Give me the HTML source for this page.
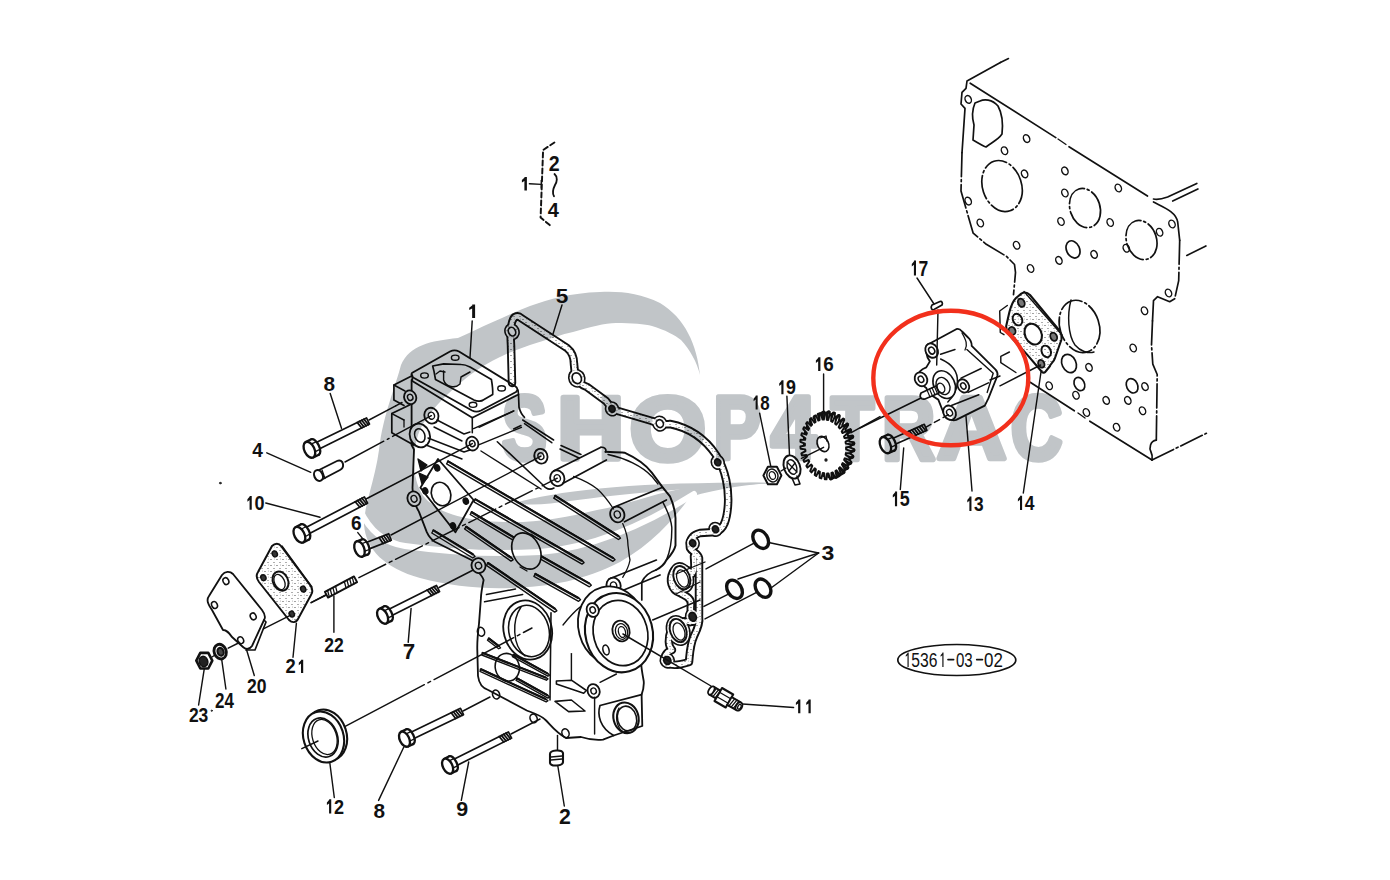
<!DOCTYPE html>
<html><head><meta charset="utf-8"><style>
html,body{margin:0;padding:0;background:#fff;width:1390px;height:880px;overflow:hidden}
svg{display:block}
text{font-family:"Liberation Sans",sans-serif;stroke:none}
</style></head><body>
<svg width="1390" height="880" viewBox="0 0 1390 880">
<defs><pattern id="dots" width="6" height="6" patternUnits="userSpaceOnUse"><rect width="6" height="6" fill="#fff"/><circle cx="1" cy="1.5" r="0.6" fill="#333"/><circle cx="4" cy="4.5" r="0.55" fill="#444"/><circle cx="4.5" cy="1" r="0.4" fill="#666"/></pattern></defs>
<rect width="1390" height="880" fill="#fff"/>
<g stroke="#111" stroke-linecap="round" stroke-linejoin="round" fill="none">
<path d="M1008.5,58.5 L1000.4,62.5" stroke-width="1.56" fill="none" />
<path d="M1000.4,62.5 L967.0,81.0 L966.0,88.3 L962.0,92.3 L961.0,104.0 L965.0,108.4 L962.0,152.7" stroke-width="1.69" fill="none" />
<path d="M962.0,152.7 L961.0,191.0 L970.2,223.0 L973.2,233.2 L986.3,244.3 L1006.5,256.4 L1014.5,264.5 L1015.5,272.5 L1013.5,294.7" stroke-width="1.69" fill="none" stroke-dasharray="24 3 2 3"/>
<line x1="970.2" y1="83.2" x2="1055.8" y2="137.6" stroke-width="1.69" />
<line x1="1069.0" y1="146.7" x2="1147.5" y2="196.0" stroke-width="1.69" />
<line x1="1058.0" y1="139.0" x2="1066.0" y2="144.5" stroke-width="1.30" />
<path d="M1153.5,199 C1158,200 1162,199 1167.6,197 L1196.8,183.4" stroke-width="1.69" fill="none" />
<line x1="1172.7" y1="201.0" x2="1197.9" y2="189.0" stroke-width="1.69" />
<path d="M1153.5,202 C1165,208 1176,212 1177.7,222 L1179.7,240.3" stroke-width="1.69" fill="none" />
<path d="M1179.7,240.3 L1178.7,280.6 L1174.7,298.7" stroke-width="1.69" fill="none" stroke-dasharray="24 3 2 3"/>
<path d="M1174.7,298.7 L1169.7,301.7 L1157.6,296.7 L1153.5,300.7 L1152.5,320.9" stroke-width="1.69" fill="none" />
<path d="M1152.5,320.9 L1151.5,345.0 L1152.8,364.2 L1157.2,374.5 L1156.3,440.2" stroke-width="1.69" fill="none" stroke-dasharray="24 3 2 3"/>
<path d="M1156.3,440.2 C1150,441 1149,448 1151,452 C1153,456 1152,459 1152,460" stroke-width="1.69" fill="none" />
<line x1="1186.8" y1="255.4" x2="1205.9" y2="246.0" stroke-width="1.69" />
<line x1="1030.2" y1="382.3" x2="1074.3" y2="410.8" stroke-width="1.69" />
<line x1="1089.8" y1="421.2" x2="1152.0" y2="460.0" stroke-width="1.69" />
<line x1="1078.0" y1="413.0" x2="1085.0" y2="418.0" stroke-width="1.30" />
<path d="M1152.0,460.0 L1206.4,433.3" stroke-width="1.69" fill="none" stroke-dasharray="24 3 2 3"/>
<ellipse cx="968.2" cy="99.4" rx="3.0" ry="4.0" stroke-width="1.43" fill="none" transform="rotate(-25 968.2 99.4)" />
<ellipse cx="1026.6" cy="138.6" rx="3.0" ry="4.0" stroke-width="1.43" fill="none" transform="rotate(-25 1026.6 138.6)" />
<ellipse cx="1004.5" cy="150.7" rx="3.0" ry="4.0" stroke-width="1.43" fill="none" transform="rotate(-25 1004.5 150.7)" />
<ellipse cx="1024.6" cy="173.9" rx="3.0" ry="4.0" stroke-width="1.43" fill="none" transform="rotate(-25 1024.6 173.9)" />
<ellipse cx="1064.9" cy="170.9" rx="3.0" ry="4.0" stroke-width="1.43" fill="none" transform="rotate(-25 1064.9 170.9)" />
<ellipse cx="1118.3" cy="188.0" rx="3.0" ry="4.0" stroke-width="1.43" fill="none" transform="rotate(-25 1118.3 188.0)" />
<ellipse cx="968.2" cy="201.1" rx="3.0" ry="4.0" stroke-width="1.43" fill="none" transform="rotate(-25 968.2 201.1)" />
<ellipse cx="1064.9" cy="193.0" rx="3.0" ry="4.0" stroke-width="1.43" fill="none" transform="rotate(-25 1064.9 193.0)" />
<ellipse cx="980.3" cy="223.0" rx="3.0" ry="4.0" stroke-width="1.43" fill="none" transform="rotate(-25 980.3 223.0)" />
<ellipse cx="1061.0" cy="221.5" rx="3.0" ry="4.0" stroke-width="1.43" fill="none" transform="rotate(-25 1061.0 221.5)" />
<ellipse cx="1110.2" cy="222.5" rx="3.0" ry="4.0" stroke-width="1.43" fill="none" transform="rotate(-25 1110.2 222.5)" />
<ellipse cx="1172.0" cy="224.0" rx="3.0" ry="4.0" stroke-width="1.43" fill="none" transform="rotate(-25 1172.0 224.0)" />
<ellipse cx="1016.6" cy="245.3" rx="3.0" ry="4.0" stroke-width="1.43" fill="none" transform="rotate(-25 1016.6 245.3)" />
<ellipse cx="1030.6" cy="268.5" rx="3.0" ry="4.0" stroke-width="1.43" fill="none" transform="rotate(-25 1030.6 268.5)" />
<ellipse cx="1058.9" cy="260.4" rx="3.0" ry="4.0" stroke-width="1.43" fill="none" transform="rotate(-25 1058.9 260.4)" />
<ellipse cx="1094.1" cy="254.4" rx="3.0" ry="4.0" stroke-width="1.43" fill="none" transform="rotate(-25 1094.1 254.4)" />
<ellipse cx="1126.3" cy="248.3" rx="3.0" ry="4.0" stroke-width="1.43" fill="none" transform="rotate(-25 1126.3 248.3)" />
<ellipse cx="1159.6" cy="232.2" rx="3.0" ry="4.0" stroke-width="1.43" fill="none" transform="rotate(-25 1159.6 232.2)" />
<ellipse cx="1144.5" cy="310.8" rx="3.0" ry="4.0" stroke-width="1.43" fill="none" transform="rotate(-25 1144.5 310.8)" />
<ellipse cx="1133.2" cy="348.0" rx="3.0" ry="4.0" stroke-width="1.43" fill="none" transform="rotate(-25 1133.2 348.0)" />
<ellipse cx="1089.0" cy="367.4" rx="3.0" ry="4.0" stroke-width="1.43" fill="none" transform="rotate(-25 1089.0 367.4)" />
<ellipse cx="1049.2" cy="385.8" rx="3.0" ry="4.0" stroke-width="1.43" fill="none" transform="rotate(-25 1049.2 385.8)" />
<ellipse cx="1168.5" cy="293.0" rx="3.0" ry="4.0" stroke-width="1.43" fill="none" transform="rotate(-25 1168.5 293.0)" />
<ellipse cx="1076.0" cy="395.3" rx="3.0" ry="4.0" stroke-width="1.43" fill="none" transform="rotate(-25 1076.0 395.3)" />
<ellipse cx="1145.0" cy="386.6" rx="3.0" ry="4.0" stroke-width="1.43" fill="none" transform="rotate(-25 1145.0 386.6)" />
<ellipse cx="1106.2" cy="400.4" rx="3.0" ry="4.0" stroke-width="1.43" fill="none" transform="rotate(-25 1106.2 400.4)" />
<ellipse cx="1127.8" cy="400.4" rx="3.0" ry="4.0" stroke-width="1.43" fill="none" transform="rotate(-25 1127.8 400.4)" />
<ellipse cx="1142.5" cy="410.8" rx="3.0" ry="4.0" stroke-width="1.43" fill="none" transform="rotate(-25 1142.5 410.8)" />
<ellipse cx="1086.4" cy="412.5" rx="3.0" ry="4.0" stroke-width="1.43" fill="none" transform="rotate(-25 1086.4 412.5)" />
<ellipse cx="1116.6" cy="427.2" rx="3.0" ry="4.0" stroke-width="1.43" fill="none" transform="rotate(-25 1116.6 427.2)" />
<ellipse cx="1073.0" cy="249.4" rx="6.5" ry="9.0" stroke-width="1.69" fill="none" transform="rotate(-25 1073.0 249.4)" />
<ellipse cx="1069.0" cy="363.5" rx="7.0" ry="9.5" stroke-width="1.69" fill="none" transform="rotate(-25 1069.0 363.5)" />
<ellipse cx="1079.4" cy="384.0" rx="5.0" ry="7.0" stroke-width="1.69" fill="none" transform="rotate(-25 1079.4 384.0)" />
<ellipse cx="1132.1" cy="385.8" rx="5.5" ry="7.5" stroke-width="1.69" fill="none" transform="rotate(-25 1132.1 385.8)" />
<ellipse cx="1002.0" cy="186.0" rx="19.5" ry="26.0" stroke-width="1.69" fill="none" transform="rotate(-18 1002.0 186.0)" stroke-dasharray="24 3 2 3"/>
<ellipse cx="1085.0" cy="208.0" rx="15.0" ry="20.0" stroke-width="1.69" fill="none" transform="rotate(-18 1085.0 208.0)" stroke-dasharray="24 3 2 3"/>
<ellipse cx="1141.5" cy="240.0" rx="15.0" ry="20.0" stroke-width="1.69" fill="none" transform="rotate(-18 1141.5 240.0)" stroke-dasharray="24 3 2 3"/>
<path d="M975,103 C972,110 972,118 974,125 L973,140 C978,143 983,146 986,147 C992,142 998,140 1002,134 C1003,125 1003,115 998,106 C992,99 984,99 980,101 Z" stroke-width="1.69" fill="none" />
<ellipse cx="1079.5" cy="326.4" rx="19.6" ry="26.7" stroke-width="1.69" fill="none" transform="rotate(-18 1079.5 326.4)" stroke-dasharray="24 3 2 3"/>
<path d="M1071,300 C1067,315 1068,335 1075,345 C1080,351 1088,354 1094,352" stroke-width="1.43" fill="none" />
<path d="M1021.3,293.6 C1024,292 1027,292 1030,295 L1059,330 C1062,334 1062,337 1061.3,340 L1055,358 C1054,362 1050,364 1050,366 L1046,371 C1045,373 1043,373 1042,372 L1026.7,354.1 L1012.7,339 C1008,334 1006,330 1006.2,326 L1009.4,312 C1011,306 1014,300 1016,298 Z" stroke-width="2.08" fill="url(#dots)" />
<path d="M1024,291.5 L1062,335" stroke-width="1.30" fill="none" />
<ellipse cx="1021.3" cy="302.8" rx="3.2" ry="4.3" stroke-width="1.82" fill="#777" transform="rotate(-25 1021.3 302.8)" />
<ellipse cx="1017.5" cy="319.6" rx="4.5" ry="6.0" stroke-width="1.95" fill="none" transform="rotate(-25 1017.5 319.6)" />
<ellipse cx="1012.1" cy="330.9" rx="3.3" ry="4.0" stroke-width="1.82" fill="#777" transform="rotate(-25 1012.1 330.9)" />
<ellipse cx="1033.2" cy="334.1" rx="8.2" ry="10.8" stroke-width="2.08" fill="#fff" transform="rotate(-25 1033.2 334.1)" />
<ellipse cx="1053.7" cy="336.8" rx="3.2" ry="4.3" stroke-width="1.82" fill="#777" transform="rotate(-25 1053.7 336.8)" />
<ellipse cx="1046.2" cy="351.4" rx="4.5" ry="6.0" stroke-width="1.95" fill="none" transform="rotate(-25 1046.2 351.4)" />
<ellipse cx="1041.3" cy="363.8" rx="3.0" ry="4.0" stroke-width="1.82" fill="#777" transform="rotate(-25 1041.3 363.8)" />
<path d="M1007.3,305.5 L999.7,311.0 L1000.3,332.5 L1004.0,334.7" stroke-width="1.43" fill="none" />
<path d="M1009.4,352.0 L1000.8,356.3 L1000.8,362.7 L1015.9,372.5" stroke-width="1.43" fill="none" />
<line x1="1000.0" y1="385.8" x2="1040.6" y2="365.0" stroke-width="1.43" />
<path d="M927.5,344.7 L956.2,329.2 C958,328.5 960,329 962.1,331.5 L968.1,337.5 C970,339 972,343 971.7,345.9 L995.6,369.7 C997.5,372 998,374 997.3,376 L988.4,398.4 L984.8,405.6 L956.2,419.9 C952,421 946,419 944,414 L938.3,399.6 C932,396 927,392 926.3,388 C922,385 918,382 918,377 C918,372 922,369 926.3,367.4 L929.9,361.4 C926,357 925,348 927.5,344.7 Z" stroke-width="1.82" fill="#fff" />
<ellipse cx="931.7" cy="350.6" rx="6.0" ry="7.5" stroke-width="1.82" fill="#fff" transform="rotate(-30 931.7 350.6)" />
<ellipse cx="931.7" cy="350.6" rx="2.8" ry="3.6" stroke-width="1.56" fill="none" transform="rotate(-30 931.7 350.6)" />
<path d="M966.9,349.5 L993.2,373.3 L987.2,392.4" stroke-width="1.43" fill="none" />
<path d="M962,333 C966,340 968,345 965,350" stroke-width="1.30" fill="none" />
<line x1="940.6" y1="354.2" x2="955.0" y2="349.5" stroke-width="1.43" />
<path d="M940.6,359 C952,364 958,372 957.4,382 C957,392 952,398 947.8,402" stroke-width="1.43" fill="none" />
<ellipse cx="944.2" cy="384.6" rx="10.5" ry="14.5" stroke-width="1.56" fill="#fff" transform="rotate(-25 944.2 384.6)" />
<ellipse cx="943.0" cy="386.0" rx="6.5" ry="9.0" stroke-width="1.43" fill="#fff" transform="rotate(-25 943.0 386.0)" />
<ellipse cx="941.0" cy="388.0" rx="3.5" ry="5.0" stroke-width="1.43" fill="none" transform="rotate(-25 941.0 388.0)" />
<line x1="961.0" y1="378.1" x2="981.2" y2="368.5" stroke-width="1.56" />
<line x1="968.1" y1="392.4" x2="988.4" y2="382.9" stroke-width="1.56" />
<ellipse cx="963.3" cy="385.9" rx="5.5" ry="7.0" stroke-width="1.82" fill="#fff" transform="rotate(-30 963.3 385.9)" />
<ellipse cx="963.3" cy="385.9" rx="2.5" ry="3.3" stroke-width="1.43" fill="none" transform="rotate(-30 963.3 385.9)" />
<line x1="951.4" y1="405.6" x2="978.8" y2="394.8" stroke-width="1.56" />
<ellipse cx="949.6" cy="412.7" rx="6.0" ry="7.5" stroke-width="1.82" fill="#fff" transform="rotate(-30 949.6 412.7)" />
<ellipse cx="949.6" cy="412.7" rx="2.8" ry="3.4" stroke-width="1.43" fill="none" transform="rotate(-30 949.6 412.7)" />
<ellipse cx="921.0" cy="379.3" rx="6.0" ry="7.2" stroke-width="1.82" fill="#fff" transform="rotate(-30 921.0 379.3)" />
<ellipse cx="921.0" cy="379.3" rx="2.6" ry="3.3" stroke-width="1.43" fill="none" transform="rotate(-30 921.0 379.3)" />
<path d="M921,393 L936,386 L939,393 L925,399 C921,400 919,397 921,393 Z" stroke-width="1.69" fill="#fff" />
<line x1="927.0" y1="390.0" x2="930.0" y2="397.0" stroke-width="1.17" />
<line x1="929.5" y1="388.9" x2="932.5" y2="395.9" stroke-width="1.17" />
<line x1="932.0" y1="387.8" x2="935.0" y2="394.8" stroke-width="1.17" />
<line x1="934.5" y1="386.7" x2="937.5" y2="393.7" stroke-width="1.17" />
<line x1="860.0" y1="428.0" x2="921.0" y2="398.0" stroke-width="1.43" />
<line x1="990.0" y1="380.0" x2="1000.0" y2="376.0" stroke-width="1.43" />
<path d="M893.0,445.3 L926.9,430.3 L924.3,424.3 L890.4,439.4 Z" stroke-width="1.69" fill="#fff" />
<line x1="925.7" y1="430.8" x2="921.6" y2="425.5" stroke-width="1.76" />
<line x1="923.3" y1="431.9" x2="919.2" y2="426.6" stroke-width="1.76" />
<line x1="920.8" y1="433.0" x2="916.7" y2="427.7" stroke-width="1.76" />
<line x1="918.4" y1="434.1" x2="914.3" y2="428.8" stroke-width="1.76" />
<line x1="916.0" y1="435.1" x2="911.9" y2="429.9" stroke-width="1.76" />
<line x1="913.5" y1="436.2" x2="909.4" y2="430.9" stroke-width="1.76" />
<ellipse cx="891.1" cy="442.6" rx="4.0" ry="8.5" stroke-width="2.34" fill="#fff" transform="rotate(-23.948348851589543 891.1 442.6)" />
<path d="M888.8,453.0 L894.6,450.4 L887.7,434.8 L881.9,437.4 Z" stroke-width="0.00" fill="#fff" stroke="none"/>
<line x1="888.8" y1="453.0" x2="894.6" y2="450.4" stroke-width="2.34" />
<line x1="881.9" y1="437.4" x2="887.7" y2="434.8" stroke-width="2.34" />
<ellipse cx="885.4" cy="445.2" rx="5.0" ry="8.5" stroke-width="2.34" fill="#fff" transform="rotate(-23.948348851589543 885.4 445.2)" />
<line x1="891.2" y1="447.2" x2="895.7" y2="445.2" stroke-width="1.30" />
<line x1="887.7" y1="439.4" x2="892.3" y2="437.4" stroke-width="1.30" />
<path d="M925.6,427.3 L948.8,414.4" stroke-width="1.43" fill="none" stroke-dasharray="6 4"/>
<path d="M932,305 L940,301.5 C942,301 943,303 942,305 L934,309.5 C932,310.5 930,308 932,305 Z" stroke-width="1.69" fill="#fff" />
<line x1="938.0" y1="310.0" x2="936.7" y2="365.0" stroke-width="1.43" />
<path d="M849.3,441.6 L853.9,442.3 L854.1,444.5 L849.6,445.5 L849.6,447.3 L854.1,449.1 L854.0,451.3 L849.4,451.1 L849.1,452.8 L853.2,455.8 L852.7,457.8 L848.2,456.3 L847.6,457.9 L851.3,462.0 L850.5,463.8 L846.2,461.1 L845.4,462.5 L848.4,467.4 L847.3,468.9 L843.4,465.2 L842.4,466.3 L844.6,471.8 L843.3,472.9 L840.0,468.3 L838.9,469.1 L840.2,475.0 L838.6,475.7 L836.2,470.4 L834.9,470.9 L835.2,476.9 L833.6,477.2 L832.0,471.4 L830.6,471.4 L830.0,477.3 L828.3,477.2 L827.7,471.2 L826.3,470.9 L824.8,476.4 L823.1,475.8 L823.4,469.8 L822.1,469.1 L819.7,474.0 L818.2,473.0 L819.4,467.3 L818.2,466.3 L815.0,470.4 L813.7,469.0 L815.8,463.9 L814.8,462.6 L811.0,465.6 L809.9,463.9 L812.8,459.5 L812.0,458.0 L807.7,459.9 L806.9,457.9 L810.5,454.6 L809.9,452.9 L805.4,453.5 L804.9,451.4 L809.0,449.1 L808.7,447.4 L804.1,446.7 L803.9,444.5 L808.4,443.5 L808.4,441.7 L803.9,439.9 L804.0,437.7 L808.6,437.9 L808.9,436.2 L804.8,433.2 L805.3,431.2 L809.8,432.7 L810.4,431.1 L806.7,427.0 L807.5,425.2 L811.8,427.9 L812.6,426.5 L809.6,421.6 L810.7,420.1 L814.6,423.8 L815.6,422.7 L813.4,417.2 L814.7,416.1 L818.0,420.7 L819.1,419.9 L817.8,414.0 L819.4,413.3 L821.8,418.6 L823.1,418.1 L822.8,412.1 L824.4,411.8 L826.0,417.6 L827.4,417.6 L828.0,411.7 L829.7,411.8 L830.3,417.8 L831.7,418.1 L833.2,412.6 L834.9,413.2 L834.6,419.2 L835.9,419.9 L838.3,415.0 L839.8,416.0 L838.6,421.7 L839.8,422.7 L843.0,418.6 L844.3,420.0 L842.2,425.1 L843.2,426.4 L847.0,423.4 L848.1,425.1 L845.2,429.5 L846.0,431.0 L850.3,429.1 L851.1,431.1 L847.5,434.4 L848.1,436.1 L852.6,435.5 L853.1,437.6 L849.0,439.9 Z" stroke-width="1.95" fill="#fff" />
<line x1="850.5" y1="445.4" x2="854.0" y2="443.4" stroke-width="2.86" />
<line x1="850.6" y1="452.2" x2="854.1" y2="450.2" stroke-width="2.86" />
<line x1="849.5" y1="458.8" x2="853.0" y2="456.8" stroke-width="2.86" />
<line x1="847.4" y1="464.9" x2="850.9" y2="462.9" stroke-width="2.86" />
<line x1="844.3" y1="470.1" x2="847.8" y2="468.1" stroke-width="2.86" />
<line x1="840.5" y1="474.4" x2="844.0" y2="472.4" stroke-width="2.86" />
<line x1="835.9" y1="477.4" x2="839.4" y2="475.4" stroke-width="2.86" />
<line x1="830.9" y1="479.0" x2="834.4" y2="477.0" stroke-width="2.86" />
<line x1="820.1" y1="414.0" x2="823.6" y2="412.0" stroke-width="2.86" />
<line x1="825.3" y1="413.7" x2="828.8" y2="411.7" stroke-width="2.86" />
<line x1="830.6" y1="414.9" x2="834.1" y2="412.9" stroke-width="2.86" />
<line x1="835.6" y1="417.5" x2="839.1" y2="415.5" stroke-width="2.86" />
<line x1="840.1" y1="421.3" x2="843.6" y2="419.3" stroke-width="2.86" />
<line x1="844.1" y1="426.3" x2="847.6" y2="424.3" stroke-width="2.86" />
<line x1="847.2" y1="432.1" x2="850.7" y2="430.1" stroke-width="2.86" />
<line x1="849.4" y1="438.6" x2="852.9" y2="436.6" stroke-width="2.86" />
<path d="M845.8,443.6 L850.4,444.3 L850.6,446.5 L846.1,447.5 L846.1,449.3 L850.6,451.1 L850.5,453.3 L845.9,453.1 L845.6,454.8 L849.7,457.8 L849.2,459.8 L844.7,458.3 L844.1,459.9 L847.8,464.0 L847.0,465.8 L842.7,463.1 L841.9,464.5 L844.9,469.4 L843.8,470.9 L839.9,467.2 L838.9,468.3 L841.1,473.8 L839.8,474.9 L836.5,470.3 L835.4,471.1 L836.7,477.0 L835.1,477.7 L832.7,472.4 L831.4,472.9 L831.7,478.9 L830.1,479.2 L828.5,473.4 L827.1,473.4 L826.5,479.3 L824.8,479.2 L824.2,473.2 L822.8,472.9 L821.3,478.4 L819.6,477.8 L819.9,471.8 L818.6,471.1 L816.2,476.0 L814.7,475.0 L815.9,469.3 L814.7,468.3 L811.5,472.4 L810.2,471.0 L812.3,465.9 L811.3,464.6 L807.5,467.6 L806.4,465.9 L809.3,461.5 L808.5,460.0 L804.2,461.9 L803.4,459.9 L807.0,456.6 L806.4,454.9 L801.9,455.5 L801.4,453.4 L805.5,451.1 L805.2,449.4 L800.6,448.7 L800.4,446.5 L804.9,445.5 L804.9,443.7 L800.4,441.9 L800.5,439.7 L805.1,439.9 L805.4,438.2 L801.3,435.2 L801.8,433.2 L806.3,434.7 L806.9,433.1 L803.2,429.0 L804.0,427.2 L808.3,429.9 L809.1,428.5 L806.1,423.6 L807.2,422.1 L811.1,425.8 L812.1,424.7 L809.9,419.2 L811.2,418.1 L814.5,422.7 L815.6,421.9 L814.3,416.0 L815.9,415.3 L818.3,420.6 L819.6,420.1 L819.3,414.1 L820.9,413.8 L822.5,419.6 L823.9,419.6 L824.5,413.7 L826.2,413.8 L826.8,419.8 L828.2,420.1 L829.7,414.6 L831.4,415.2 L831.1,421.2 L832.4,421.9 L834.8,417.0 L836.3,418.0 L835.1,423.7 L836.3,424.7 L839.5,420.6 L840.8,422.0 L838.7,427.1 L839.7,428.4 L843.5,425.4 L844.6,427.1 L841.7,431.5 L842.5,433.0 L846.8,431.1 L847.6,433.1 L844.0,436.4 L844.6,438.1 L849.1,437.5 L849.6,439.6 L845.5,441.9 Z" stroke-width="1.95" fill="#fff" />
<ellipse cx="823.0" cy="444.0" rx="5.5" ry="8.0" stroke-width="1.56" fill="#fff" transform="rotate(-25 823.0 444.0)" />
<path d="M820,438 L826,436 L827,441" stroke-width="1.30" fill="none" />
<ellipse cx="826.0" cy="460.0" rx="1.0" ry="1.0" stroke-width="1.30" fill="none" />
<line x1="801.4" y1="458.4" x2="823.6" y2="447.3" stroke-width="1.43" />
<line x1="850.8" y1="432.8" x2="880.0" y2="416.6" stroke-width="1.43" />
<ellipse cx="792.0" cy="467.0" rx="8.0" ry="12.0" stroke-width="1.95" fill="#fff" transform="rotate(-20 792.0 467.0)" />
<ellipse cx="792.0" cy="467.0" rx="4.5" ry="7.5" stroke-width="1.43" fill="none" transform="rotate(-20 792.0 467.0)" />
<line x1="787.0" y1="462.0" x2="797.0" y2="472.0" stroke-width="1.30" />
<line x1="789.0" y1="471.0" x2="795.0" y2="463.0" stroke-width="1.30" />
<path d="M792,478 L795,485 L800,484 L797,476" stroke-width="1.56" fill="none" />
<path d="M781.4,475.5 L776.9,484.2 L767.9,484.2 L763.4,475.5 L767.9,466.8 L776.9,466.8 Z" stroke-width="1.95" fill="#fff" />
<ellipse cx="772.4" cy="475.5" rx="5.5" ry="6.5" stroke-width="1.43" fill="none" transform="rotate(-20 772.4 475.5)" />
<ellipse cx="772.4" cy="475.5" rx="3.0" ry="4.0" stroke-width="1.30" fill="none" transform="rotate(-20 772.4 475.5)" />
<line x1="781.0" y1="471.0" x2="786.0" y2="468.0" stroke-width="1.43" />
<path d="M913.90,260.50 L916.00,260.50 L916.00,275.39 L913.90,275.39 L913.90,264.85 L911.80,266.59 L911.80,263.98 L914.08,261.15 Z" fill="#111" stroke="none"/>
<text fill="#111" font-weight="bold" font-size="21.74" transform="translate(918.57 275.50) scale(0.806 1)" x="0" y="0" >7</text>
<line x1="917.0" y1="278.0" x2="934.0" y2="304.0" stroke-width="1.43" />
<path d="M894.95,491.60 L897.10,491.60 L897.10,506.28 L894.95,506.28 L894.95,495.89 L892.80,497.60 L892.80,495.03 L895.13,492.24 Z" fill="#111" stroke="none"/>
<text fill="#111" font-weight="bold" font-size="21.43" transform="translate(899.71 506.39) scale(0.835 1)" x="0" y="0" >5</text>
<line x1="900.3" y1="489.5" x2="903.7" y2="448.0" stroke-width="1.43" />
<path d="M969.38,496.61 L971.46,496.61 L971.46,511.08 L969.38,511.08 L969.38,500.84 L967.30,502.53 L967.30,499.99 L969.55,497.25 Z" fill="#111" stroke="none"/>
<text fill="#111" font-weight="bold" font-size="21.13" transform="translate(973.99 511.19) scale(0.820 1)" x="0" y="0" >3</text>
<line x1="972.0" y1="491.0" x2="966.0" y2="416.4" stroke-width="1.43" />
<path d="M1020.00,495.70 L1022.10,495.70 L1022.10,509.90 L1020.00,509.90 L1020.00,499.84 L1017.90,501.50 L1017.90,499.02 L1020.18,496.32 Z" fill="#111" stroke="none"/>
<text fill="#111" font-weight="bold" font-size="20.72" transform="translate(1024.67 510.00) scale(0.845 1)" x="0" y="0" >4</text>
<line x1="1023.3" y1="493.0" x2="1041.0" y2="372.0" stroke-width="1.43" />
<path d="M818.16,357.20 L820.43,357.20 L820.43,371.10 L818.16,371.10 L818.16,361.26 L815.90,362.88 L815.90,360.45 L818.35,357.81 Z" fill="#111" stroke="none"/>
<text fill="#111" font-weight="bold" font-size="20.28" transform="translate(823.19 371.20) scale(0.930 1)" x="0" y="0" >6</text>
<line x1="823.6" y1="374.0" x2="823.6" y2="413.2" stroke-width="1.43" />
<path d="M781.35,380.20 L783.49,380.20 L783.49,394.19 L781.35,394.19 L781.35,384.29 L779.20,385.92 L779.20,383.47 L781.52,380.82 Z" fill="#111" stroke="none"/>
<text fill="#111" font-weight="bold" font-size="20.42" transform="translate(786.10 394.30) scale(0.875 1)" x="0" y="0" >9</text>
<line x1="786.9" y1="396.2" x2="789.5" y2="455.0" stroke-width="1.43" />
<path d="M755.63,395.50 L757.66,395.50 L757.66,409.49 L755.63,409.49 L755.63,399.59 L753.60,401.22 L753.60,398.77 L755.80,396.12 Z" fill="#111" stroke="none"/>
<text fill="#111" font-weight="bold" font-size="20.42" transform="translate(760.13 409.60) scale(0.828 1)" x="0" y="0" >8</text>
<line x1="759.6" y1="413.2" x2="770.7" y2="466.0" stroke-width="1.43" />
<path d="M472.15,304.60 L475.10,304.60 L475.10,317.90 L472.15,317.90 L472.15,308.48 L469.20,310.04 L469.20,307.71 L472.40,305.18 Z" fill="#111" stroke="none"/>
<line x1="472.2" y1="320.9" x2="470.0" y2="357.8" stroke-width="1.43" />
<text fill="#111" font-weight="bold" font-size="21.14" transform="translate(555.72 302.99) scale(1.069 1)" x="0" y="0" >5</text>
<line x1="562.0" y1="305.0" x2="553.0" y2="334.0" stroke-width="1.43" />
<text fill="#111" font-weight="bold" font-size="20.14" transform="translate(323.38 391.30) scale(1.033 1)" x="0" y="0" >8</text>
<line x1="330.2" y1="393.5" x2="341.5" y2="428.3" stroke-width="1.43" />
<text fill="#111" font-weight="bold" font-size="20.87" transform="translate(252.21 457.00) scale(0.914 1)" x="0" y="0" >4</text>
<line x1="266.8" y1="452.8" x2="310.8" y2="472.3" stroke-width="1.43" />
<path d="M249.57,496.00 L251.74,496.00 L251.74,509.80 L249.57,509.80 L249.57,500.03 L247.40,501.64 L247.40,499.22 L249.75,496.61 Z" fill="#111" stroke="none"/>
<text fill="#111" font-weight="bold" font-size="20.14" transform="translate(254.38 509.90) scale(0.898 1)" x="0" y="0" >0</text>
<line x1="265.8" y1="503.0" x2="320.0" y2="517.3" stroke-width="1.43" />
<text fill="#111" font-weight="bold" font-size="20.28" transform="translate(351.04 530.40) scale(0.935 1)" x="0" y="0" >6</text>
<line x1="357.8" y1="532.6" x2="367.0" y2="543.9" stroke-width="1.43" />
<text fill="#111" font-weight="bold" font-size="21.30" transform="translate(402.69 658.60) scale(1.050 1)" x="0" y="0" >7</text>
<line x1="411.1" y1="608.4" x2="408.2" y2="642.4" stroke-width="1.43" />
<text fill="#111" font-weight="bold" font-size="19.43" transform="translate(324.19 651.60) scale(0.904 1)" x="0" y="0" >2</text>
<text fill="#111" font-weight="bold" font-size="19.43" transform="translate(333.95 651.60) scale(0.904 1)" x="0" y="0" >2</text>
<line x1="333.9" y1="595.9" x2="333.9" y2="632.3" stroke-width="1.43" />
<text fill="#111" font-weight="bold" font-size="19.57" transform="translate(285.46 673.20) scale(0.938 1)" x="0" y="0" >2</text>
<path d="M301.00,659.70 L303.20,659.70 L303.20,673.10 L301.00,673.10 L301.00,663.61 L298.79,665.18 L298.79,662.83 L301.18,660.28 Z" fill="#111" stroke="none"/>
<line x1="296.4" y1="623.2" x2="293.0" y2="657.3" stroke-width="1.43" />
<text fill="#111" font-weight="bold" font-size="20.70" transform="translate(246.89 693.39) scale(0.848 1)" x="0" y="0" >2</text>
<text fill="#111" font-weight="bold" font-size="20.70" transform="translate(256.65 693.39) scale(0.848 1)" x="0" y="0" >0</text>
<line x1="246.4" y1="649.3" x2="254.3" y2="675.5" stroke-width="1.43" />
<text fill="#111" font-weight="bold" font-size="21.14" transform="translate(215.11 708.40) scale(0.804 1)" x="0" y="0" >2</text>
<text fill="#111" font-weight="bold" font-size="21.14" transform="translate(224.56 708.40) scale(0.804 1)" x="0" y="0" >4</text>
<line x1="221.4" y1="657.3" x2="225.9" y2="689.0" stroke-width="1.43" />
<text fill="#111" font-weight="bold" font-size="20.70" transform="translate(188.89 721.79) scale(0.844 1)" x="0" y="0" >2</text>
<text fill="#111" font-weight="bold" font-size="20.70" transform="translate(198.61 721.79) scale(0.844 1)" x="0" y="0" >3</text>
<line x1="204.3" y1="668.6" x2="198.6" y2="705.0" stroke-width="1.43" />
<path d="M329.07,799.21 L331.24,799.21 L331.24,813.60 L329.07,813.60 L329.07,803.41 L326.90,805.09 L326.90,802.57 L329.25,799.84 Z" fill="#111" stroke="none"/>
<text fill="#111" font-weight="bold" font-size="21.00" transform="translate(333.88 813.70) scale(0.861 1)" x="0" y="0" >2</text>
<line x1="329.9" y1="763.5" x2="334.3" y2="797.5" stroke-width="1.43" />
<text fill="#111" font-weight="bold" font-size="20.85" transform="translate(373.58 817.99) scale(0.998 1)" x="0" y="0" >8</text>
<line x1="378.6" y1="800.4" x2="403.7" y2="747.3" stroke-width="1.43" />
<text fill="#111" font-weight="bold" font-size="20.85" transform="translate(456.15 816.49) scale(1.029 1)" x="0" y="0" >9</text>
<line x1="461.3" y1="800.4" x2="468.7" y2="762.0" stroke-width="1.43" />
<text fill="#111" font-weight="bold" font-size="22.57" transform="translate(559.06 824.00) scale(0.941 1)" x="0" y="0" >2</text>
<line x1="557.5" y1="735.5" x2="557.5" y2="751.4" stroke-width="1.43" />
<line x1="557.5" y1="764.0" x2="564.3" y2="806.0" stroke-width="1.43" />
<text fill="#111" font-weight="bold" font-size="20.85" transform="translate(821.42 559.59) scale(1.105 1)" x="0" y="0" >3</text>
<line x1="818.6" y1="553.0" x2="769.8" y2="542.7" stroke-width="1.43" />
<line x1="818.6" y1="553.0" x2="738.0" y2="579.0" stroke-width="1.43" />
<line x1="818.6" y1="553.0" x2="771.0" y2="588.0" stroke-width="1.43" />
<path d="M798.13,699.50 L800.36,699.50 L800.36,713.20 L798.13,713.20 L798.13,703.50 L795.90,705.10 L795.90,702.70 L798.32,700.10 Z" fill="#111" stroke="none"/>
<path d="M808.47,699.50 L810.70,699.50 L810.70,713.20 L808.47,713.20 L808.47,703.50 L806.24,705.10 L806.24,702.70 L808.66,700.10 Z" fill="#111" stroke="none"/>
<line x1="742.5" y1="704.0" x2="793.6" y2="707.5" stroke-width="1.43" />
<path d="M524.40,176.90 L526.90,176.90 L526.90,190.60 L524.40,190.60 L524.40,180.90 L521.90,182.50 L521.90,180.10 L524.61,177.50 Z" fill="#111" stroke="none"/>
<line x1="529.4" y1="183.8" x2="541.3" y2="184.4" stroke-width="1.43" />
<line x1="541.3" y1="180.5" x2="541.3" y2="188.0" stroke-width="1.43" />
<text fill="#111" font-weight="bold" font-size="22.43" transform="translate(548.71 171.30) scale(0.873 1)" x="0" y="0" >2</text>
<text fill="#111" font-weight="bold" font-size="20.87" transform="translate(547.80 216.90) scale(0.958 1)" x="0" y="0" >4</text>
<path d="M554.4,142.5 L543.1,150 L540.6,217.5 L551.9,226.9" stroke-width="1.95" fill="none" stroke-dasharray="5 3"/>
<path d="M554.5,174 C558,177 557,182 555,185 C553,189 552,193 554,196.3" stroke-width="1.82" fill="none" />
<ellipse cx="956.8" cy="660.0" rx="59.0" ry="15.5" stroke-width="1.69" fill="none" />
<path d="M907.49,652.61 L908.67,652.61 L908.67,667.08 L907.49,667.08 L907.49,655.15 L905.77,656.63 L905.77,655.36 L907.65,653.03 Z" fill="#111" stroke="none"/>
<text fill="#111" font-weight="normal" font-size="21.13" transform="translate(911.35 667.19) scale(0.741 1)" x="0" y="0" >5</text>
<text fill="#111" font-weight="normal" font-size="21.13" transform="translate(920.06 667.19) scale(0.741 1)" x="0" y="0" >3</text>
<text fill="#111" font-weight="normal" font-size="21.13" transform="translate(928.77 667.19) scale(0.741 1)" x="0" y="0" >6</text>
<path d="M942.33,652.61 L943.51,652.61 L943.51,667.08 L942.33,667.08 L942.33,655.15 L940.61,656.63 L940.61,655.36 L942.49,653.03 Z" fill="#111" stroke="none"/>
<line x1="948.0" y1="659.6" x2="953.6" y2="659.6" stroke-width="1.69" />
<text fill="#111" font-weight="normal" font-size="21.13" transform="translate(955.90 667.19) scale(0.715 1)" x="0" y="0" >0</text>
<text fill="#111" font-weight="normal" font-size="21.13" transform="translate(964.30 667.19) scale(0.715 1)" x="0" y="0" >3</text>
<line x1="976.7" y1="659.6" x2="982.4" y2="659.6" stroke-width="1.69" />
<text fill="#111" font-weight="normal" font-size="21.13" transform="translate(984.02 667.19) scale(0.802 1)" x="0" y="0" >0</text>
<text fill="#111" font-weight="normal" font-size="21.13" transform="translate(993.44 667.19) scale(0.802 1)" x="0" y="0" >2</text>
<path d="M512,383 L511,345 C510,330 511,320 515,317 C517,316 519,316 521,318 L567,348 C572,352 574,357 574,364 L575,374 C577,382 581,385 587,387 L606,401 C609,405 612,410 618,411 L652,421 C657,423 663,425 670,424 C690,428 706,440 716,455 C726,470 729,490 728,505 C727,520 724,529 716,532 L700,533 C692,535 689,540 690,548 C692,552 698,553 699,558 L699,615 C699,620 694,622 690,622" stroke-width="8.45" fill="none" />
<path d="M694,556 C694,562 696,570 692,574 C688,568 676,566 673,572 C669,580 671,590 680,593 C686,596 691,598 691,604 C690,610 692,616 690,622 C683,620 674,622 671,630 C668,638 668,646 672,650 C666,652 662,658 667,663 C673,667 683,664 689,662 C690,652 690,645 694,636 C697,630 700,622 699,617" stroke-width="8.45" fill="none" />
<ellipse cx="512.0" cy="331.6" rx="7.7" ry="8.7" stroke-width="0.00" fill="#111" transform="rotate(-25 512.0 331.6)" stroke="none"/>
<ellipse cx="576.8" cy="378.2" rx="8.7" ry="9.7" stroke-width="0.00" fill="#111" transform="rotate(-25 576.8 378.2)" stroke="none"/>
<ellipse cx="612.0" cy="408.9" rx="7.2" ry="7.7" stroke-width="0.00" fill="#111" transform="rotate(-25 612.0 408.9)" stroke="none"/>
<ellipse cx="659.8" cy="423.6" rx="7.7" ry="8.2" stroke-width="0.00" fill="#111" transform="rotate(-25 659.8 423.6)" stroke="none"/>
<ellipse cx="717.7" cy="462.3" rx="7.2" ry="7.7" stroke-width="0.00" fill="#111" transform="rotate(-25 717.7 462.3)" stroke="none"/>
<ellipse cx="715.5" cy="529.3" rx="7.2" ry="7.7" stroke-width="0.00" fill="#111" transform="rotate(-25 715.5 529.3)" stroke="none"/>
<ellipse cx="692.7" cy="543.2" rx="7.2" ry="7.7" stroke-width="0.00" fill="#111" transform="rotate(-25 692.7 543.2)" stroke="none"/>
<ellipse cx="692.7" cy="616.8" rx="7.7" ry="8.7" stroke-width="0.00" fill="#111" transform="rotate(-25 692.7 616.8)" stroke="none"/>
<ellipse cx="667.3" cy="660.5" rx="7.7" ry="8.2" stroke-width="0.00" fill="#111" transform="rotate(-25 667.3 660.5)" stroke="none"/>
<ellipse cx="681.8" cy="577.7" rx="12.0" ry="16.0" stroke-width="0.00" fill="#111" transform="rotate(-20 681.8 577.7)" stroke="none"/>
<ellipse cx="678.2" cy="630.5" rx="12.0" ry="16.0" stroke-width="0.00" fill="#111" transform="rotate(-20 678.2 630.5)" stroke="none"/>
<path d="M512,383 L511,345 C510,330 511,320 515,317 C517,316 519,316 521,318 L567,348 C572,352 574,357 574,364 L575,374 C577,382 581,385 587,387 L606,401 C609,405 612,410 618,411 L652,421 C657,423 663,425 670,424 C690,428 706,440 716,455 C726,470 729,490 728,505 C727,520 724,529 716,532 L700,533 C692,535 689,540 690,548 C692,552 698,553 699,558 L699,615 C699,620 694,622 690,622" stroke-width="4.68" fill="none" stroke="url(#dots)"/>
<path d="M694,556 C694,562 696,570 692,574 C688,568 676,566 673,572 C669,580 671,590 680,593 C686,596 691,598 691,604 C690,610 692,616 690,622 C683,620 674,622 671,630 C668,638 668,646 672,650 C666,652 662,658 667,663 C673,667 683,664 689,662 C690,652 690,645 694,636 C697,630 700,622 699,617" stroke-width="4.68" fill="none" stroke="url(#dots)"/>
<ellipse cx="512.0" cy="331.6" rx="6.1" ry="7.1" stroke-width="0.00" fill="url(#dots)" transform="rotate(-25 512.0 331.6)" stroke="none"/>
<ellipse cx="576.8" cy="378.2" rx="7.1" ry="8.1" stroke-width="0.00" fill="url(#dots)" transform="rotate(-25 576.8 378.2)" stroke="none"/>
<ellipse cx="612.0" cy="408.9" rx="5.6" ry="6.1" stroke-width="0.00" fill="url(#dots)" transform="rotate(-25 612.0 408.9)" stroke="none"/>
<ellipse cx="659.8" cy="423.6" rx="6.1" ry="6.6" stroke-width="0.00" fill="url(#dots)" transform="rotate(-25 659.8 423.6)" stroke="none"/>
<ellipse cx="717.7" cy="462.3" rx="5.6" ry="6.1" stroke-width="0.00" fill="url(#dots)" transform="rotate(-25 717.7 462.3)" stroke="none"/>
<ellipse cx="715.5" cy="529.3" rx="5.6" ry="6.1" stroke-width="0.00" fill="url(#dots)" transform="rotate(-25 715.5 529.3)" stroke="none"/>
<ellipse cx="692.7" cy="543.2" rx="5.6" ry="6.1" stroke-width="0.00" fill="url(#dots)" transform="rotate(-25 692.7 543.2)" stroke="none"/>
<ellipse cx="692.7" cy="616.8" rx="6.1" ry="7.1" stroke-width="0.00" fill="url(#dots)" transform="rotate(-25 692.7 616.8)" stroke="none"/>
<ellipse cx="667.3" cy="660.5" rx="6.1" ry="6.6" stroke-width="0.00" fill="url(#dots)" transform="rotate(-25 667.3 660.5)" stroke="none"/>
<ellipse cx="681.8" cy="577.7" rx="10.4" ry="14.4" stroke-width="0.00" fill="url(#dots)" transform="rotate(-20 681.8 577.7)" stroke="none"/>
<ellipse cx="678.2" cy="630.5" rx="10.4" ry="14.4" stroke-width="0.00" fill="url(#dots)" transform="rotate(-20 678.2 630.5)" stroke="none"/>
<ellipse cx="512.0" cy="331.6" rx="3.5" ry="4.5" stroke-width="1.69" fill="#fff" transform="rotate(-25 512.0 331.6)" />
<ellipse cx="576.8" cy="378.2" rx="4.5" ry="5.5" stroke-width="1.69" fill="#fff" transform="rotate(-25 576.8 378.2)" />
<ellipse cx="612.0" cy="408.9" rx="3.0" ry="3.5" stroke-width="1.69" fill="#222" transform="rotate(-25 612.0 408.9)" />
<ellipse cx="659.8" cy="423.6" rx="3.5" ry="4.0" stroke-width="1.69" fill="#fff" transform="rotate(-25 659.8 423.6)" />
<ellipse cx="717.7" cy="462.3" rx="3.0" ry="3.5" stroke-width="1.69" fill="#222" transform="rotate(-25 717.7 462.3)" />
<ellipse cx="715.5" cy="529.3" rx="3.0" ry="3.5" stroke-width="1.69" fill="#222" transform="rotate(-25 715.5 529.3)" />
<ellipse cx="692.7" cy="543.2" rx="3.0" ry="3.5" stroke-width="1.69" fill="#222" transform="rotate(-25 692.7 543.2)" />
<ellipse cx="692.7" cy="616.8" rx="3.5" ry="4.5" stroke-width="1.69" fill="#222" transform="rotate(-25 692.7 616.8)" />
<ellipse cx="667.3" cy="660.5" rx="3.5" ry="4.0" stroke-width="1.69" fill="#222" transform="rotate(-25 667.3 660.5)" />
<ellipse cx="681.8" cy="577.7" rx="8.0" ry="12.0" stroke-width="1.95" fill="#fff" transform="rotate(-20 681.8 577.7)" />
<ellipse cx="682.5" cy="578.5" rx="5.5" ry="9.0" stroke-width="1.30" fill="none" transform="rotate(-20 682.5 578.5)" />
<ellipse cx="678.2" cy="630.5" rx="8.0" ry="12.0" stroke-width="1.95" fill="#fff" transform="rotate(-20 678.2 630.5)" />
<ellipse cx="679.0" cy="631.5" rx="5.5" ry="9.0" stroke-width="1.30" fill="none" transform="rotate(-20 679.0 631.5)" />
<path d="M676,574 L705,562 M676,594 L700,582" stroke-width="1.30" fill="none" />
<path d="M412.3,372.7 L450,351.5 C453,350 456,350 459,351.5 L515,386 C518,388 518,390 516,392 L481,410.5 C478,412 475,412 472,410.5 L414,378 C411,376 411,374 412.3,372.7 Z" stroke-width="1.82" fill="none" />
<path d="M434,371.4 L435.5,379.5 L474,400 C478,402 482,401 483.2,400 L492.7,394.5 C493,390 492,383 491.4,379.5 L470,367 C466,365 462,364.5 461.4,364.5 L443.6,363.9 L432.7,366 Z" stroke-width="1.69" fill="none" />
<path d="M443.6,371 L443.6,380 C446,387 455,389 460,384 L461,377 L470,372" stroke-width="1.43" fill="none" />
<path d="M436,374 L440,371 L445,372" stroke-width="1.30" fill="none" />
<ellipse cx="455.2" cy="357.7" rx="3.8" ry="2.6" stroke-width="1.43" fill="none" />
<ellipse cx="424.5" cy="375.5" rx="3.8" ry="2.6" stroke-width="1.43" fill="none" />
<ellipse cx="501.6" cy="388.4" rx="3.8" ry="2.6" stroke-width="1.43" fill="none" />
<ellipse cx="473.0" cy="404.8" rx="3.8" ry="2.6" stroke-width="1.43" fill="none" />
<path d="M412.3,375.0 L412.3,381.0 L472.3,417.7 L518.5,394.5 L518.0,390.0" stroke-width="1.69" fill="none" />
<line x1="472.3" y1="417.7" x2="472.3" y2="432.7" stroke-width="1.56" />
<line x1="473.6" y1="428.6" x2="513.9" y2="410.9" stroke-width="1.43" />
<line x1="475.0" y1="446.4" x2="521.4" y2="427.3" stroke-width="1.43" />
<path d="M518.5,394.5 L519,407.3 C520,411 522,415 524.5,417.3" stroke-width="1.69" fill="none" />
<path d="M411.6,376.1 L393.9,385.0 L393.9,400.0 L404.0,405.5" stroke-width="1.69" fill="none" />
<line x1="393.9" y1="385.0" x2="405.0" y2="391.0" stroke-width="1.43" />
<path d="M411.6,404.0 L391.8,413.6 L391.8,432.7 L413.6,445.0" stroke-width="1.69" fill="none" />
<line x1="391.8" y1="413.6" x2="404.0" y2="420.0" stroke-width="1.43" />
<line x1="404.0" y1="420.0" x2="404.0" y2="427.0" stroke-width="1.30" />
<path d="M411.6,380 L411.6,445 L414,449.5 L412.5,487.7 C413,500 415,505 418.9,511.6 L426.8,532.2 C429,537 432,540 434.8,541.8 L472.9,560.8" stroke-width="1.82" fill="none" />
<path d="M478.2,572 C481,575 483,578 483.6,580 C482,588 481,595 480.9,598.2 L479,623.6 C478,632 477,640 477.3,650 L478,676 C479,684 482,688 488.2,690 L526.8,710.5 C536,714 542,716 545,719.5 C550,724 555,732 566,738 L581,737 C590,740 598,740 603,739.6 L613.7,735.5 L642.3,726 L641.6,694.6 C644,688 644,684 643.7,681 C642,672 641,665 641,660.5 C644,650 643,640 641.8,630" stroke-width="1.82" fill="none" />
<ellipse cx="410.2" cy="397.3" rx="6.0" ry="7.0" stroke-width="1.82" fill="#fff" transform="rotate(-20 410.2 397.3)" />
<ellipse cx="410.2" cy="397.3" rx="2.7" ry="3.1" stroke-width="1.43" fill="none" transform="rotate(-20 410.2 397.3)" />
<ellipse cx="431.4" cy="415.7" rx="7.0" ry="8.0" stroke-width="1.82" fill="#fff" transform="rotate(-20 431.4 415.7)" />
<ellipse cx="431.4" cy="415.7" rx="3.1" ry="3.6" stroke-width="1.43" fill="none" transform="rotate(-20 431.4 415.7)" />
<ellipse cx="472.3" cy="443.6" rx="6.0" ry="7.0" stroke-width="1.82" fill="#fff" transform="rotate(-20 472.3 443.6)" />
<ellipse cx="472.3" cy="443.6" rx="2.7" ry="3.1" stroke-width="1.43" fill="none" transform="rotate(-20 472.3 443.6)" />
<ellipse cx="540.9" cy="456.2" rx="6.5" ry="7.5" stroke-width="1.82" fill="#fff" transform="rotate(-20 540.9 456.2)" />
<ellipse cx="540.9" cy="456.2" rx="2.9" ry="3.4" stroke-width="1.43" fill="none" transform="rotate(-20 540.9 456.2)" />
<ellipse cx="557.3" cy="478.2" rx="7.0" ry="8.0" stroke-width="1.82" fill="#fff" transform="rotate(-20 557.3 478.2)" />
<ellipse cx="557.3" cy="478.2" rx="3.1" ry="3.6" stroke-width="1.43" fill="none" transform="rotate(-20 557.3 478.2)" />
<ellipse cx="414.0" cy="498.8" rx="6.5" ry="7.5" stroke-width="1.82" fill="#fff" transform="rotate(-20 414.0 498.8)" />
<ellipse cx="414.0" cy="498.8" rx="2.9" ry="3.4" stroke-width="1.43" fill="none" transform="rotate(-20 414.0 498.8)" />
<ellipse cx="478.5" cy="565.6" rx="7.0" ry="7.5" stroke-width="1.82" fill="#fff" transform="rotate(-20 478.5 565.6)" />
<ellipse cx="478.5" cy="565.6" rx="3.1" ry="3.4" stroke-width="1.43" fill="none" transform="rotate(-20 478.5 565.6)" />
<ellipse cx="617.3" cy="514.5" rx="7.0" ry="8.0" stroke-width="1.82" fill="#fff" transform="rotate(-20 617.3 514.5)" />
<ellipse cx="617.3" cy="514.5" rx="3.1" ry="3.6" stroke-width="1.43" fill="none" transform="rotate(-20 617.3 514.5)" />
<ellipse cx="613.6" cy="585.5" rx="7.0" ry="8.0" stroke-width="1.82" fill="#fff" transform="rotate(-20 613.6 585.5)" />
<ellipse cx="613.6" cy="585.5" rx="3.1" ry="3.6" stroke-width="1.43" fill="none" transform="rotate(-20 613.6 585.5)" />
<ellipse cx="592.7" cy="610.0" rx="6.0" ry="7.0" stroke-width="1.82" fill="#fff" transform="rotate(-20 592.7 610.0)" />
<ellipse cx="592.7" cy="610.0" rx="2.7" ry="3.1" stroke-width="1.43" fill="none" transform="rotate(-20 592.7 610.0)" />
<ellipse cx="593.6" cy="691.0" rx="6.0" ry="7.0" stroke-width="1.82" fill="#fff" transform="rotate(-20 593.6 691.0)" />
<ellipse cx="593.6" cy="691.0" rx="2.7" ry="3.1" stroke-width="1.43" fill="none" transform="rotate(-20 593.6 691.0)" />
<ellipse cx="419.8" cy="435.5" rx="10.0" ry="12.0" stroke-width="1.82" fill="#fff" transform="rotate(-20 419.8 435.5)" />
<ellipse cx="419.8" cy="435.5" rx="5.0" ry="7.0" stroke-width="1.56" fill="none" transform="rotate(-20 419.8 435.5)" />
<ellipse cx="481.0" cy="631.8" rx="3.5" ry="4.5" stroke-width="1.56" fill="none" transform="rotate(-20 481.0 631.8)" />
<ellipse cx="496.1" cy="694.5" rx="3.5" ry="4.5" stroke-width="1.56" fill="none" transform="rotate(-20 496.1 694.5)" />
<ellipse cx="533.6" cy="718.4" rx="3.5" ry="4.5" stroke-width="1.56" fill="none" transform="rotate(-20 533.6 718.4)" />
<ellipse cx="565.5" cy="733.2" rx="3.5" ry="4.5" stroke-width="1.56" fill="none" transform="rotate(-20 565.5 733.2)" />
<path d="M437.0,420.0 L464.0,434.0 L470.0,432.0" stroke-width="1.43" fill="none" />
<path d="M434.0,427.0 L462.0,441.0" stroke-width="1.43" fill="none" />
<path d="M428.0,438.0 L464.0,452.0 L470.0,450.0" stroke-width="1.43" fill="none" />
<path d="M426.0,445.0 L462.0,459.0" stroke-width="1.43" fill="none" />
<line x1="479.0" y1="427.3" x2="513.6" y2="411.0" stroke-width="1.43" />
<line x1="513.6" y1="429.0" x2="521.0" y2="425.5" stroke-width="1.43" />
<path d="M497.3,441.8 L543,485 C546,489 550,490 554,488" stroke-width="1.56" fill="none" />
<line x1="481.0" y1="451.0" x2="541.0" y2="489.0" stroke-width="1.43" />
<path d="M522.7,420 L553.6,440 M524.5,423.6 L551.8,442.7 M561,445.5 L581,454.5 M560,449 L579,458" stroke-width="1.56" fill="none" />
<line x1="553.6" y1="471.0" x2="601.0" y2="447.3" stroke-width="1.69" />
<line x1="562.7" y1="483.6" x2="606.4" y2="460.0" stroke-width="1.69" />
<path d="M601,447.3 C604,447 607,449 605.5,452" stroke-width="1.56" fill="none" />
<line x1="613.6" y1="507.3" x2="662.7" y2="487.3" stroke-width="1.69" />
<line x1="624.5" y1="521.8" x2="666.4" y2="500.0" stroke-width="1.69" />
<line x1="609.0" y1="579.0" x2="656.4" y2="560.0" stroke-width="1.69" />
<line x1="619.0" y1="592.0" x2="660.0" y2="575.0" stroke-width="1.69" />
<path d="M605.5,451.8 C612,452 620,452 624.5,452.7 C636,458 646,465 651.8,472.7 L662.7,487.3 L670,496.4 C673,503 675,510 675.5,518.2 L675.5,545.5 C674,552 670,556 666.4,560 C664,565 660,568 656,570" stroke-width="1.95" fill="none" />
<path d="M608,454.5 C625,458 642,466 651.8,476.4 L658,484" stroke-width="1.43" fill="none" />
<path d="M662.7,501.8 C667,510 671,518 671.8,527.3 C672,540 670,552 666.4,560" stroke-width="1.43" fill="none" />
<path d="M573.6,476.4 C583,480 591,484 597.3,489 C604,495 609,502 613.6,509" stroke-width="1.30" fill="none" />
<path d="M622.7,523.6 C626,531 628,538 628,545.5 C629,552 629,556 630,560 C629,566 626,572 622.7,577.3" stroke-width="1.30" fill="none" />
<path d="M418.0,459.0 L427.0,465.0 L421.0,471.0 Z" stroke-width="1.30" fill="#111" />
<path d="M419.0,473.0 L428.0,477.0 L422.0,484.0 Z" stroke-width="1.30" fill="#111" />
<path d="M438.0,459.0 L473.6,500.0 L455.4,532.2 L420.4,487.7 Z" stroke-width="1.82" fill="none" />
<ellipse cx="441.1" cy="494.0" rx="9.5" ry="12.0" stroke-width="1.69" fill="none" transform="rotate(-20 441.1 494.0)" />
<ellipse cx="437.1" cy="467.8" rx="2.6" ry="3.2" stroke-width="1.30" fill="#111" transform="rotate(-20 437.1 467.8)" />
<ellipse cx="425.2" cy="490.9" rx="2.6" ry="3.2" stroke-width="1.30" fill="#111" transform="rotate(-20 425.2 490.9)" />
<ellipse cx="465.8" cy="501.2" rx="2.6" ry="3.2" stroke-width="1.30" fill="#111" transform="rotate(-20 465.8 501.2)" />
<ellipse cx="453.0" cy="525.9" rx="2.6" ry="3.2" stroke-width="1.30" fill="#111" transform="rotate(-20 453.0 525.9)" />
<path d="M448.2,461.0 L612.9,557.5 L615.0,559.8 L613.0,561.3 L446.6,463.8 Z" stroke-width="1.43" fill="none" />
<line x1="448.0" y1="461.4" x2="612.7" y2="557.9" stroke-width="2.21" />
<path d="M475.5,499.0 L581.9,560.3 L584.0,562.6 L582.0,564.1 L473.9,501.8 Z" stroke-width="1.43" fill="none" />
<line x1="475.3" y1="499.4" x2="581.7" y2="560.7" stroke-width="2.21" />
<path d="M471.8,511.8 L514.7,537.5 L516.8,539.8 L514.8,541.2 L470.2,514.5 Z" stroke-width="1.43" fill="none" />
<line x1="471.6" y1="512.2" x2="514.5" y2="537.9" stroke-width="2.21" />
<path d="M537.3,553.6 L589.2,583.0 L591.3,585.3 L589.4,586.8 L535.7,556.4 Z" stroke-width="1.43" fill="none" />
<line x1="537.1" y1="554.0" x2="589.0" y2="583.4" stroke-width="2.21" />
<path d="M466.4,526.4 L511.1,557.3 L513.1,559.8 L511.0,561.1 L464.6,529.0 Z" stroke-width="1.43" fill="none" />
<line x1="466.1" y1="526.8" x2="510.9" y2="557.7" stroke-width="2.21" />
<path d="M535.5,573.6 L578.4,597.5 L580.5,599.8 L578.6,601.3 L533.9,576.4 Z" stroke-width="1.43" fill="none" />
<line x1="535.3" y1="574.0" x2="578.1" y2="598.0" stroke-width="2.21" />
<path d="M433.6,530.0 L472.9,553.9 L475.0,556.4 L472.8,558.0 L431.8,533.0 Z" stroke-width="1.43" fill="none" />
<line x1="433.3" y1="530.4" x2="472.7" y2="554.4" stroke-width="2.21" />
<path d="M488.2,562.7 L554.8,608.3 L556.8,610.8 L554.7,612.1 L486.4,565.3 Z" stroke-width="1.43" fill="none" />
<line x1="487.9" y1="563.1" x2="554.6" y2="608.7" stroke-width="2.21" />
<path d="M555.5,495.5 L618.5,535.7 L620.5,538.1 L618.4,539.5 L553.8,498.2 Z" stroke-width="1.43" fill="none" />
<line x1="555.2" y1="495.9" x2="618.2" y2="536.1" stroke-width="2.21" />
<ellipse cx="526.4" cy="551.0" rx="13.6" ry="19.0" stroke-width="1.69" fill="#fff" transform="rotate(-25 526.4 551.0)" />
<path d="M531,534 L540,540 M520,567 L527,571" stroke-width="1.30" fill="none" />
<line x1="486.4" y1="594.5" x2="515.5" y2="589.0" stroke-width="1.43" />
<line x1="484.5" y1="601.8" x2="522.7" y2="594.5" stroke-width="1.43" />
<ellipse cx="527.7" cy="630.0" rx="24.0" ry="30.0" stroke-width="1.82" fill="none" transform="rotate(-15 527.7 630.0)" />
<ellipse cx="529.0" cy="631.0" rx="20.0" ry="26.0" stroke-width="1.56" fill="none" transform="rotate(-15 529.0 631.0)" />
<path d="M521,607 C512,620 512,645 525,656" stroke-width="1.43" fill="none" />
<ellipse cx="507.3" cy="667.3" rx="12.0" ry="14.0" stroke-width="1.56" fill="none" transform="rotate(-15 507.3 667.3)" />
<path d="M489.0,638.2 L498.6,645.5 L500.5,647.9 L498.7,648.7 L487.5,640.2 Z" stroke-width="1.43" fill="none" />
<line x1="488.8" y1="638.5" x2="498.4" y2="645.8" stroke-width="2.21" />
<path d="M482.7,652.7 L545.4,677.1 L547.9,678.9 L546.4,680.2 L481.8,655.0 Z" stroke-width="1.43" fill="none" />
<line x1="482.6" y1="653.0" x2="545.3" y2="677.5" stroke-width="2.21" />
<path d="M513.6,654.5 L547.4,673.1 L549.6,675.2 L547.9,676.2 L512.4,656.7 Z" stroke-width="1.43" fill="none" />
<line x1="513.4" y1="654.8" x2="547.2" y2="673.4" stroke-width="2.21" />
<path d="M481.0,669.0 L545.5,698.7 L547.9,700.7 L546.2,701.9 L480.0,671.3 Z" stroke-width="1.43" fill="none" />
<line x1="480.8" y1="669.3" x2="545.3" y2="699.1" stroke-width="2.21" />
<path d="M517.3,678.2 L547.4,694.9 L549.6,697.1 L547.9,698.1 L516.1,680.4 Z" stroke-width="1.43" fill="none" />
<line x1="517.1" y1="678.5" x2="547.2" y2="695.3" stroke-width="2.21" />
<line x1="551.0" y1="612.7" x2="550.0" y2="700.0" stroke-width="1.56" />
<line x1="571.4" y1="653.6" x2="571.4" y2="679.6" stroke-width="1.43" />
<line x1="594.6" y1="697.3" x2="594.6" y2="734.0" stroke-width="1.43" />
<path d="M556.4,681.0 L571.4,680.2 L586.4,690.5 L583.7,693.2 L556.4,684.0 Z" stroke-width="1.56" fill="none" />
<path d="M555.0,701.4 L571.4,700.0 L585.0,711.0 L568.6,711.6 Z" stroke-width="1.56" fill="none" />
<line x1="600.0" y1="682.3" x2="616.4" y2="674.0" stroke-width="1.43" />
<path d="M600,705.5 L641.6,694.6 M600,705.5 C597,715 600,728 613.7,735.5" stroke-width="1.69" fill="none" />
<path d="M563,625 C575,610 585,600 600,600" stroke-width="1.30" fill="none" />
<path d="M656,570 C650,572 645,575 641.8,582 L641.8,600" stroke-width="1.69" fill="none" />
<ellipse cx="612.0" cy="626.0" rx="33.6" ry="40.0" stroke-width="1.82" fill="#fff" transform="rotate(-15 612.0 626.0)" />
<ellipse cx="619.0" cy="632.7" rx="33.6" ry="40.0" stroke-width="2.08" fill="#fff" transform="rotate(-15 619.0 632.7)" />
<ellipse cx="620.5" cy="633.0" rx="27.0" ry="33.0" stroke-width="1.69" fill="none" transform="rotate(-15 620.5 633.0)" />
<ellipse cx="621.0" cy="631.0" rx="8.5" ry="10.5" stroke-width="1.82" fill="none" transform="rotate(-15 621.0 631.0)" />
<ellipse cx="621.5" cy="631.5" rx="6.0" ry="8.0" stroke-width="1.30" fill="none" transform="rotate(-15 621.5 631.5)" />
<ellipse cx="622.0" cy="632.0" rx="3.5" ry="5.5" stroke-width="1.30" fill="none" transform="rotate(-15 622.0 632.0)" />
<ellipse cx="606.0" cy="650.0" rx="3.0" ry="5.0" stroke-width="1.56" fill="none" transform="rotate(-15 606.0 650.0)" />
<ellipse cx="592.7" cy="610.0" rx="6.0" ry="7.0" stroke-width="1.82" fill="#fff" transform="rotate(-20 592.7 610.0)" />
<ellipse cx="592.7" cy="610.0" rx="2.7" ry="3.2" stroke-width="1.43" fill="none" transform="rotate(-20 592.7 610.0)" />
<line x1="623.0" y1="634.0" x2="680.0" y2="667.7" stroke-width="1.56" />
<line x1="652.7" y1="620.0" x2="700.0" y2="600.0" stroke-width="1.43" />
<ellipse cx="626.0" cy="717.8" rx="12.5" ry="15.5" stroke-width="2.08" fill="none" transform="rotate(-15 626.0 717.8)" />
<ellipse cx="627.0" cy="718.5" rx="9.5" ry="12.5" stroke-width="1.56" fill="none" transform="rotate(-15 627.0 718.5)" />
<path d="M619,708 C615,715 616,726 622,731" stroke-width="1.30" fill="none" />
<path d="M307.2,534.7 L367.6,503.1 L364.4,496.9 L304.0,528.5 Z" stroke-width="1.69" fill="#fff" />
<line x1="366.5" y1="503.7" x2="361.9" y2="498.2" stroke-width="1.76" />
<line x1="364.3" y1="504.8" x2="359.6" y2="499.4" stroke-width="1.76" />
<line x1="362.1" y1="506.0" x2="357.4" y2="500.5" stroke-width="1.76" />
<line x1="359.9" y1="507.2" x2="355.2" y2="501.7" stroke-width="1.76" />
<ellipse cx="305.0" cy="531.9" rx="4.0" ry="8.5" stroke-width="2.34" fill="#fff" transform="rotate(-27.62924666946569 305.0 531.9)" />
<path d="M303.4,542.4 L309.0,539.5 L301.1,524.3 L295.5,527.3 Z" stroke-width="0.00" fill="#fff" stroke="none"/>
<line x1="303.4" y1="542.4" x2="309.0" y2="539.5" stroke-width="2.34" />
<line x1="295.5" y1="527.3" x2="301.1" y2="524.3" stroke-width="2.34" />
<ellipse cx="299.4" cy="534.8" rx="5.0" ry="8.5" stroke-width="2.34" fill="#fff" transform="rotate(-27.62924666946569 299.4 534.8)" />
<line x1="305.4" y1="536.5" x2="309.8" y2="534.2" stroke-width="1.30" />
<line x1="301.5" y1="529.0" x2="305.8" y2="526.7" stroke-width="1.30" />
<line x1="366.0" y1="499.0" x2="472.3" y2="443.6" stroke-width="1.43" />
<path d="M317.2,449.9 L369.5,424.1 L366.5,417.9 L314.1,443.6 Z" stroke-width="1.69" fill="#fff" />
<line x1="368.4" y1="424.7" x2="363.9" y2="419.1" stroke-width="1.76" />
<line x1="366.2" y1="425.8" x2="361.7" y2="420.2" stroke-width="1.76" />
<line x1="363.9" y1="426.9" x2="359.4" y2="421.3" stroke-width="1.76" />
<line x1="361.7" y1="428.0" x2="357.2" y2="422.4" stroke-width="1.76" />
<ellipse cx="315.1" cy="447.0" rx="4.0" ry="8.5" stroke-width="2.34" fill="#fff" transform="rotate(-26.15433577831292 315.1 447.0)" />
<path d="M313.2,457.4 L318.8,454.7 L311.3,439.3 L305.6,442.1 Z" stroke-width="0.00" fill="#fff" stroke="none"/>
<line x1="313.2" y1="457.4" x2="318.8" y2="454.7" stroke-width="2.34" />
<line x1="305.6" y1="442.1" x2="311.3" y2="439.3" stroke-width="2.34" />
<ellipse cx="309.4" cy="449.8" rx="5.0" ry="8.5" stroke-width="2.34" fill="#fff" transform="rotate(-26.15433577831292 309.4 449.8)" />
<line x1="315.3" y1="451.6" x2="319.8" y2="449.4" stroke-width="1.30" />
<line x1="311.6" y1="443.9" x2="316.0" y2="441.8" stroke-width="1.30" />
<line x1="369.0" y1="420.0" x2="395.7" y2="405.8" stroke-width="1.43" />
<path d="M318,470.5 L337,461 C340,459.5 342.5,461 343,464 C343.5,467 342,469 340,470 L321,480 Z" stroke-width="1.95" fill="#fff" />
<ellipse cx="318.5" cy="475.5" rx="4.2" ry="5.6" stroke-width="2.08" fill="#fff" transform="rotate(-25 318.5 475.5)" />
<line x1="322.0" y1="470.0" x2="325.0" y2="478.5" stroke-width="1.30" />
<path d="M366.8,549.9 L391.3,540.3 L388.7,533.7 L364.3,543.3 Z" stroke-width="1.69" fill="#fff" />
<line x1="390.1" y1="540.7" x2="386.1" y2="534.8" stroke-width="1.76" />
<line x1="387.8" y1="541.6" x2="383.7" y2="535.7" stroke-width="1.76" />
<line x1="385.5" y1="542.5" x2="381.4" y2="536.6" stroke-width="1.76" />
<line x1="383.1" y1="543.5" x2="379.1" y2="537.5" stroke-width="1.76" />
<ellipse cx="365.0" cy="546.8" rx="3.8" ry="8.1" stroke-width="2.34" fill="#fff" transform="rotate(-21.44773632710535 365.0 546.8)" />
<path d="M362.4,556.5 L368.0,554.3 L362.1,539.3 L356.5,541.5 Z" stroke-width="0.00" fill="#fff" stroke="none"/>
<line x1="362.4" y1="556.5" x2="368.0" y2="554.3" stroke-width="2.34" />
<line x1="356.5" y1="541.5" x2="362.1" y2="539.3" stroke-width="2.34" />
<ellipse cx="359.5" cy="549.0" rx="4.7" ry="8.1" stroke-width="2.34" fill="#fff" transform="rotate(-21.44773632710535 359.5 549.0)" />
<line x1="364.9" y1="551.2" x2="369.3" y2="549.5" stroke-width="1.30" />
<line x1="361.9" y1="543.7" x2="366.3" y2="542.0" stroke-width="1.30" />
<line x1="391.0" y1="535.0" x2="540.9" y2="456.2" stroke-width="1.43" />
<path d="M390.0,616.4 L439.6,591.6 L436.4,585.4 L386.9,610.2 Z" stroke-width="1.69" fill="#fff" />
<line x1="438.4" y1="592.2" x2="433.9" y2="586.6" stroke-width="1.76" />
<line x1="436.2" y1="593.3" x2="431.6" y2="587.8" stroke-width="1.76" />
<line x1="434.0" y1="594.4" x2="429.4" y2="588.9" stroke-width="1.76" />
<line x1="431.7" y1="595.5" x2="427.2" y2="590.0" stroke-width="1.76" />
<ellipse cx="387.9" cy="613.6" rx="3.8" ry="8.1" stroke-width="2.34" fill="#fff" transform="rotate(-26.56505117707799 387.9 613.6)" />
<path d="M386.2,623.4 L391.5,620.8 L384.3,606.3 L379.0,609.0 Z" stroke-width="0.00" fill="#fff" stroke="none"/>
<line x1="386.2" y1="623.4" x2="391.5" y2="620.8" stroke-width="2.34" />
<line x1="379.0" y1="609.0" x2="384.3" y2="606.3" stroke-width="2.34" />
<ellipse cx="382.6" cy="616.2" rx="4.7" ry="8.1" stroke-width="2.34" fill="#fff" transform="rotate(-26.56505117707799 382.6 616.2)" />
<line x1="388.2" y1="617.9" x2="392.4" y2="615.8" stroke-width="1.30" />
<line x1="384.6" y1="610.7" x2="388.7" y2="608.6" stroke-width="1.30" />
<line x1="439.0" y1="587.5" x2="473.2" y2="570.0" stroke-width="1.43" />
<path d="M328.0,597.6 L357.1,582.1 L354.0,576.4 L324.9,591.9 Z" stroke-width="1.95" fill="#fff" />
<line x1="329.3" y1="596.9" x2="327.6" y2="590.5" stroke-width="1.30" />
<line x1="331.9" y1="595.5" x2="330.2" y2="589.1" stroke-width="1.30" />
<line x1="334.6" y1="594.1" x2="332.9" y2="587.7" stroke-width="1.30" />
<line x1="337.2" y1="592.7" x2="335.5" y2="586.2" stroke-width="1.30" />
<line x1="346.1" y1="588.0" x2="344.3" y2="581.5" stroke-width="1.30" />
<line x1="348.7" y1="586.6" x2="347.0" y2="580.1" stroke-width="1.30" />
<line x1="351.4" y1="585.2" x2="349.6" y2="578.7" stroke-width="1.30" />
<line x1="354.0" y1="583.8" x2="352.3" y2="577.3" stroke-width="1.30" />
<line x1="311.1" y1="602.7" x2="326.0" y2="595.0" stroke-width="1.43" />
<path d="M358.9,577.7 L557.3,478.2" stroke-width="1.43" fill="none" stroke-dasharray="30 4 3 4"/>
<path d="M412.0,739.5 L463.5,714.7 L460.5,708.3 L408.9,733.2 Z" stroke-width="1.69" fill="#fff" />
<line x1="462.4" y1="715.2" x2="457.9" y2="709.6" stroke-width="1.76" />
<line x1="460.1" y1="716.3" x2="455.7" y2="710.7" stroke-width="1.76" />
<line x1="457.9" y1="717.4" x2="453.4" y2="711.8" stroke-width="1.76" />
<line x1="455.6" y1="718.5" x2="451.2" y2="712.8" stroke-width="1.76" />
<ellipse cx="409.9" cy="736.6" rx="3.8" ry="8.1" stroke-width="2.34" fill="#fff" transform="rotate(-25.725612643365675 409.9 736.6)" />
<path d="M408.1,746.5 L413.4,743.9 L406.4,729.3 L401.0,731.9 Z" stroke-width="0.00" fill="#fff" stroke="none"/>
<line x1="408.1" y1="746.5" x2="413.4" y2="743.9" stroke-width="2.34" />
<line x1="401.0" y1="731.9" x2="406.4" y2="729.3" stroke-width="2.34" />
<ellipse cx="404.5" cy="739.2" rx="4.7" ry="8.1" stroke-width="2.34" fill="#fff" transform="rotate(-25.725612643365675 404.5 739.2)" />
<line x1="410.1" y1="741.0" x2="414.3" y2="738.9" stroke-width="1.30" />
<line x1="406.6" y1="733.7" x2="410.8" y2="731.7" stroke-width="1.30" />
<line x1="463.0" y1="711.0" x2="490.0" y2="697.0" stroke-width="1.43" />
<path d="M455.0,766.4 L511.6,738.1 L508.4,731.9 L451.9,760.2 Z" stroke-width="1.69" fill="#fff" />
<line x1="510.4" y1="738.7" x2="505.9" y2="733.1" stroke-width="1.76" />
<line x1="508.2" y1="739.8" x2="503.6" y2="734.3" stroke-width="1.76" />
<line x1="506.0" y1="740.9" x2="501.4" y2="735.4" stroke-width="1.76" />
<line x1="503.7" y1="742.0" x2="499.2" y2="736.5" stroke-width="1.76" />
<ellipse cx="452.9" cy="763.6" rx="3.8" ry="8.1" stroke-width="2.34" fill="#fff" transform="rotate(-26.56505117707799 452.9 763.6)" />
<path d="M451.2,773.4 L456.5,770.8 L449.3,756.3 L444.0,759.0 Z" stroke-width="0.00" fill="#fff" stroke="none"/>
<line x1="451.2" y1="773.4" x2="456.5" y2="770.8" stroke-width="2.34" />
<line x1="444.0" y1="759.0" x2="449.3" y2="756.3" stroke-width="2.34" />
<ellipse cx="447.6" cy="766.2" rx="4.7" ry="8.1" stroke-width="2.34" fill="#fff" transform="rotate(-26.56505117707799 447.6 766.2)" />
<line x1="453.2" y1="767.9" x2="457.4" y2="765.8" stroke-width="1.30" />
<line x1="449.6" y1="760.7" x2="453.7" y2="758.6" stroke-width="1.30" />
<line x1="511.0" y1="734.0" x2="540.0" y2="719.0" stroke-width="1.43" />
<line x1="395.7" y1="405.8" x2="402.0" y2="402.5" stroke-width="1.43" />
<path d="M345.0,462.0 L431.4,415.7" stroke-width="1.43" fill="none" stroke-dasharray="44 4 2 4"/>
<path d="M222,575 C225,571 230,571 233,574 L262,610 C265,614 266,617 264,620 L252,646 C250,649 246,650 243,647 L232,637 C229,633 227,630 223,630 L212,610 C208,604 206,600 209,596 Z" stroke-width="1.82" fill="#fff" />
<path d="M264,620 L266,622 L255,650 L246,650" stroke-width="1.69" fill="none" />
<ellipse cx="225.9" cy="581.1" rx="2.8" ry="3.5" stroke-width="1.56" fill="none" transform="rotate(-25 225.9 581.1)" />
<ellipse cx="214.5" cy="605.0" rx="2.8" ry="3.5" stroke-width="1.56" fill="none" transform="rotate(-25 214.5 605.0)" />
<ellipse cx="253.2" cy="616.4" rx="2.8" ry="3.5" stroke-width="1.56" fill="none" transform="rotate(-25 253.2 616.4)" />
<ellipse cx="240.7" cy="640.2" rx="2.8" ry="3.5" stroke-width="1.56" fill="none" transform="rotate(-25 240.7 640.2)" />
<path d="M272,546 C275,543 279,543 281,546 L310,585 C313,589 313,592 311,595 L298,619 C296,623 292,623 289,620 L259,582 C256,578 256,575 258,572 Z" stroke-width="1.95" fill="url(#dots)" />
<path d="M282,546 L312,587" stroke-width="1.30" fill="none" />
<ellipse cx="280.5" cy="581.1" rx="7.5" ry="10.0" stroke-width="1.95" fill="#fff" transform="rotate(-25 280.5 581.1)" />
<ellipse cx="279.5" cy="582.0" rx="5.0" ry="8.0" stroke-width="1.30" fill="none" transform="rotate(-25 279.5 582.0)" />
<ellipse cx="274.8" cy="553.9" rx="2.5" ry="3.0" stroke-width="1.43" fill="#333" transform="rotate(-25 274.8 553.9)" />
<ellipse cx="263.4" cy="577.7" rx="2.5" ry="3.0" stroke-width="1.43" fill="#333" transform="rotate(-25 263.4 577.7)" />
<ellipse cx="303.2" cy="589.1" rx="2.5" ry="3.0" stroke-width="1.43" fill="#333" transform="rotate(-25 303.2 589.1)" />
<ellipse cx="291.8" cy="614.1" rx="2.5" ry="3.0" stroke-width="1.43" fill="#333" transform="rotate(-25 291.8 614.1)" />
<line x1="263.4" y1="628.9" x2="290.7" y2="615.2" stroke-width="1.43" />
<line x1="228.2" y1="648.2" x2="239.5" y2="642.5" stroke-width="1.43" />
<line x1="311.1" y1="602.7" x2="326.0" y2="595.0" stroke-width="1.43" />
<ellipse cx="220.2" cy="651.6" rx="6.0" ry="7.5" stroke-width="2.86" fill="#fff" transform="rotate(-20 220.2 651.6)" />
<ellipse cx="220.6" cy="651.8" rx="3.0" ry="4.0" stroke-width="2.08" fill="#444" transform="rotate(-20 220.6 651.8)" />
<path d="M212.3,660.7 L208.3,668.5 L200.3,668.5 L196.3,660.7 L200.3,652.9 L208.3,652.9 Z" stroke-width="2.60" fill="#fff" />
<ellipse cx="203.5" cy="661.5" rx="4.2" ry="5.2" stroke-width="1.56" fill="#222" transform="rotate(-20 203.5 661.5)" />
<line x1="212.0" y1="657.0" x2="215.0" y2="655.0" stroke-width="1.43" />
<ellipse cx="326.5" cy="735.0" rx="20.0" ry="26.0" stroke-width="2.08" fill="#fff" transform="rotate(-18 326.5 735.0)" />
<ellipse cx="323.5" cy="737.0" rx="20.0" ry="26.0" stroke-width="2.08" fill="#fff" transform="rotate(-18 323.5 737.0)" />
<ellipse cx="323.0" cy="737.5" rx="14.5" ry="20.0" stroke-width="1.69" fill="none" transform="rotate(-18 323.0 737.5)" />
<ellipse cx="324.5" cy="737.0" rx="12.0" ry="18.0" stroke-width="1.30" fill="none" transform="rotate(-18 324.5 737.0)" />
<line x1="301.8" y1="748.7" x2="318.0" y2="741.0" stroke-width="1.43" />
<path d="M344.7,726.6 L532.0,628.0" stroke-width="1.43" fill="none" stroke-dasharray="90 4 3 4"/>
<path d="M550,754 C550,750 562,749 563,753 L563,762 C563,766 551,767 550,763 Z" stroke-width="2.08" fill="#fff" />
<line x1="551.0" y1="757.0" x2="562.0" y2="756.0" stroke-width="1.69" />
<line x1="551.0" y1="760.0" x2="562.0" y2="759.0" stroke-width="1.69" />
<path d="M709.0,694.4 L716.8,698.9 L721.3,691.1 L713.5,686.6 Z" stroke-width="1.82" fill="#fff" />
<line x1="710.8" y1="695.4" x2="716.6" y2="688.4" stroke-width="1.30" />
<line x1="712.9" y1="696.6" x2="718.7" y2="689.6" stroke-width="1.30" />
<line x1="715.1" y1="697.9" x2="720.9" y2="690.9" stroke-width="1.30" />
<path d="M714.5,701.0 L725.7,707.5 L733.2,694.5 L722.0,688.0 Z" stroke-width="2.08" fill="#fff" />
<line x1="717.0" y1="696.7" x2="728.2" y2="703.2" stroke-width="1.30" />
<line x1="719.5" y1="692.3" x2="730.7" y2="698.8" stroke-width="1.30" />
<path d="M727.2,704.9 L735.9,709.9 L740.4,702.1 L731.7,697.1 Z" stroke-width="1.82" fill="#fff" />
<line x1="728.9" y1="705.9" x2="734.7" y2="698.9" stroke-width="1.30" />
<line x1="731.1" y1="707.1" x2="736.9" y2="700.1" stroke-width="1.30" />
<line x1="733.3" y1="708.4" x2="739.1" y2="701.4" stroke-width="1.30" />
<ellipse cx="739.0" cy="706.5" rx="3.0" ry="4.5" stroke-width="1.82" fill="#fff" transform="rotate(30 739.0 706.5)" />
<ellipse cx="739.4" cy="706.8" rx="1.5" ry="2.5" stroke-width="1.30" fill="none" transform="rotate(30 739.4 706.8)" />
<ellipse cx="711.3" cy="690.5" rx="2.5" ry="4.5" stroke-width="1.69" fill="#fff" transform="rotate(30 711.3 690.5)" />
<line x1="680.0" y1="667.7" x2="711.0" y2="686.0" stroke-width="1.43" />
<ellipse cx="760.7" cy="539.3" rx="7.0" ry="9.8" stroke-width="3.38" fill="none" transform="rotate(-32 760.7 539.3)" />
<ellipse cx="734.5" cy="589.3" rx="7.0" ry="9.8" stroke-width="3.38" fill="none" transform="rotate(-32 734.5 589.3)" />
<ellipse cx="763.0" cy="588.2" rx="7.0" ry="9.8" stroke-width="3.38" fill="none" transform="rotate(-32 763.0 588.2)" />
<line x1="706.0" y1="568.9" x2="755.0" y2="542.7" stroke-width="1.43" />
<line x1="703.9" y1="606.4" x2="728.9" y2="593.9" stroke-width="1.43" />
<line x1="705.0" y1="618.9" x2="756.1" y2="592.7" stroke-width="1.43" />
<ellipse cx="220.3" cy="483.1" rx="1.0" ry="0.8" stroke-width="0.78" fill="#333" />
<ellipse cx="211.7" cy="710.7" rx="0.7" ry="0.7" stroke-width="0.65" fill="#555" />
</g>
<g style="mix-blend-mode:multiply"><g fill="#c1c5c8" stroke="none">
<path d="M700,375 C697,345 685,318 660,303 C640,293 620,291 600,292 C570,293 550,299 530,306 C505,316 480,328 458,338 C430,341 410,345 401,365 C396,385 383,415 379,450 C375,480 364,505 364,525 C366,550 385,568 420,578 C450,586 480,589 510,588 C550,587 585,580 620,562 C650,545 672,522 690,497 C720,488 750,484 776,483 C740,481 700,485 680,489 C650,495 625,505 597,510 C565,518 535,523 505,522 C470,521 440,515 425,498 C412,482 412,455 418,435 C425,415 445,395 470,375 C490,360 510,352 530,345 C550,339 562,334 573,332 C590,327 605,323 616,323 C632,323 645,324 652,326 C665,330 675,335 681,340 C690,350 697,362 700,375 Z"/>
<path d="M360,510 C370,532 385,543 405,546 C440,551 490,555 540,552 C590,548 640,528 694,494" fill="none" stroke="#fff" stroke-width="6" stroke-linecap="round"/>
<path d="M515,503 C560,490 640,481 776,483 C700,487 620,494 570,501 C550,504 530,506 515,503 Z"/>
</g>
<text fill="#c1c5c8" font-weight="bold" font-size="90.56" transform="translate(501.89 459.49) scale(0.742 1)" x="0" y="0" style="stroke:#c1c5c8;stroke-width:5.6px;stroke-linejoin:round">S</text>
<text fill="#c1c5c8" font-weight="bold" font-size="88.41" transform="translate(557.17 458.90) scale(1.049 1)" x="0" y="0" style="stroke:#c1c5c8;stroke-width:5.6px;stroke-linejoin:round">H</text>
<text fill="#c1c5c8" font-weight="bold" font-size="91.69" transform="translate(629.56 459.78) scale(1.075 1)" x="0" y="0" style="stroke:#c1c5c8;stroke-width:5.6px;stroke-linejoin:round">O</text>
<text fill="#c1c5c8" font-weight="bold" font-size="88.41" transform="translate(713.50 458.90) scale(0.800 1)" x="0" y="0" style="stroke:#c1c5c8;stroke-width:5.6px;stroke-linejoin:round">P</text>
<text fill="#c1c5c8" font-weight="bold" font-size="88.41" transform="translate(770.98 458.90) scale(0.920 1)" x="0" y="0" style="stroke:#c1c5c8;stroke-width:5.6px;stroke-linejoin:round">4</text>
<text fill="#c1c5c8" font-weight="bold" font-size="88.41" transform="translate(831.10 458.90) scale(0.796 1)" x="0" y="0" style="stroke:#c1c5c8;stroke-width:5.6px;stroke-linejoin:round">T</text>
<text fill="#c1c5c8" font-weight="bold" font-size="88.41" transform="translate(881.92 458.90) scale(0.832 1)" x="0" y="0" style="stroke:#c1c5c8;stroke-width:5.6px;stroke-linejoin:round">R</text>
<text fill="#c1c5c8" font-weight="bold" font-size="88.41" transform="translate(936.90 458.90) scale(1.086 1)" x="0" y="0" style="stroke:#c1c5c8;stroke-width:5.6px;stroke-linejoin:round">A</text>
<text fill="#c1c5c8" font-weight="bold" font-size="90.56" transform="translate(1010.74 459.49) scale(0.789 1)" x="0" y="0" style="stroke:#c1c5c8;stroke-width:5.6px;stroke-linejoin:round">C</text></g>
<ellipse cx="950.8" cy="378" rx="77.5" ry="67.3" fill="none" stroke="#f2301c" stroke-width="4.4"/>

</svg></body></html>
